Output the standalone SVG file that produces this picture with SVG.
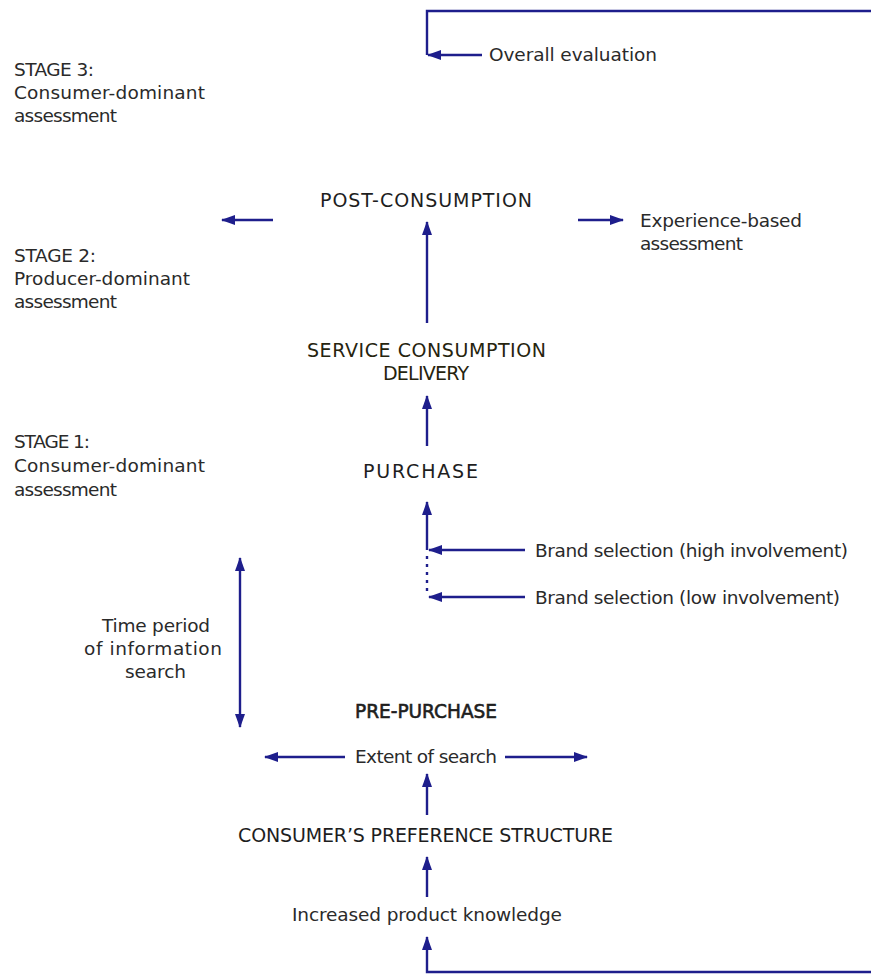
<svg xmlns="http://www.w3.org/2000/svg" width="871" height="974" viewBox="0 0 871 974">
<style>
text{font-family:"DejaVu Sans","Liberation Sans",Arial,sans-serif;font-size:18.5px;fill:#2a2a2a}
.h{fill:#1e1e1e;font-size:19px}
.sv{fill:#26240e}
.b{stroke:#1e1e1e;stroke-width:0.6}
.ln{stroke:#1e1e8c;stroke-width:2.4;fill:none}
.dot{stroke:#1e1e8c;stroke-width:2.4;fill:none;stroke-dasharray:3 5}
</style>
<defs>
<marker id="ah" viewBox="0 0 14 10" refX="13" refY="5" markerWidth="14" markerHeight="10" markerUnits="userSpaceOnUse" orient="auto-start-reverse">
<path d="M0,0 L14,5 L0,10 Z" fill="#1e1e8c"/>
</marker>
</defs>
<rect width="871" height="974" fill="#ffffff"/>
<g id="stage3"><text x="14" y="76" textLength="80">STAGE 3:</text><text x="14" y="99" textLength="191">Consumer-dominant</text><text x="14" y="122" textLength="103">assessment</text></g>
<g id="stage2"><text x="14" y="262" textLength="82">STAGE 2:</text><text x="14" y="285" textLength="176">Producer-dominant</text><text x="14" y="308" textLength="103">assessment</text></g>
<g id="stage1"><text x="14" y="448" textLength="76">STAGE 1:</text><text x="14" y="472" textLength="191">Consumer-dominant</text><text x="14" y="496" textLength="103">assessment</text></g>
<g id="overall"><text x="489" y="61" textLength="168">Overall evaluation</text></g>
<g id="post"><text class="h" x="320" y="207" textLength="212">POST-CONSUMPTION</text></g>
<g id="experience"><text x="640" y="227" textLength="162">Experience-based</text><text x="640" y="250" textLength="103">assessment</text></g>
<g id="service"><text class="h sv" x="307" y="357" textLength="239">SERVICE CONSUMPTION</text><text class="h sv" x="383" y="380" textLength="86">DELIVERY</text></g>
<g id="purchase"><text class="h" x="363" y="478" textLength="115">PURCHASE</text></g>
<g id="brandhigh"><text x="535" y="557" textLength="313">Brand selection (high involvement)</text></g>
<g id="brandlow"><text x="535" y="604" textLength="305">Brand selection (low involvement)</text></g>
<g id="timeperiod"><text x="102" y="632" textLength="108">Time period</text><text x="84" y="655" textLength="138">of information</text><text x="125" y="678" textLength="61">search</text></g>
<g id="prepurchase"><text class="h b" x="355" y="718" textLength="142" lengthAdjust="spacingAndGlyphs">PRE-PURCHASE</text></g>
<g id="extent"><text x="355" y="763" textLength="142">Extent of search</text></g>
<g id="preference"><text class="h" x="238" y="842" textLength="375">CONSUMER’S PREFERENCE STRUCTURE</text></g>
<g id="knowledge"><text x="292" y="921" textLength="270">Increased product knowledge</text></g>
<g id="connectors">
<polyline class="ln" points="871,11 427,11 427,55" />
<line class="ln" x1="482" y1="55" x2="428" y2="55" marker-end="url(#ah)"/>
<line class="ln" x1="273" y1="220" x2="222" y2="220" marker-end="url(#ah)"/>
<line class="ln" x1="578" y1="220" x2="623" y2="220" marker-end="url(#ah)"/>
<line class="ln" x1="427" y1="323" x2="427" y2="222" marker-end="url(#ah)"/>
<line class="ln" x1="427" y1="446" x2="427" y2="396" marker-end="url(#ah)"/>
<line class="ln" x1="427" y1="550" x2="427" y2="502" marker-end="url(#ah)"/>
<line class="dot" x1="427" y1="556" x2="427" y2="596"/>
<line class="ln" x1="525" y1="550" x2="429" y2="550" marker-end="url(#ah)"/>
<line class="ln" x1="525" y1="597" x2="429" y2="597" marker-end="url(#ah)"/>
<line class="ln" x1="240" y1="558" x2="240" y2="727" marker-start="url(#ah)" marker-end="url(#ah)"/>
<line class="ln" x1="345" y1="757" x2="265" y2="757" marker-end="url(#ah)"/>
<line class="ln" x1="505" y1="757" x2="587" y2="757" marker-end="url(#ah)"/>
<line class="ln" x1="427" y1="815" x2="427" y2="774" marker-end="url(#ah)"/>
<line class="ln" x1="427" y1="897" x2="427" y2="857" marker-end="url(#ah)"/>
<polyline class="ln" points="871,972 427,972 427,937" marker-end="url(#ah)"/>
</g>
</svg>
